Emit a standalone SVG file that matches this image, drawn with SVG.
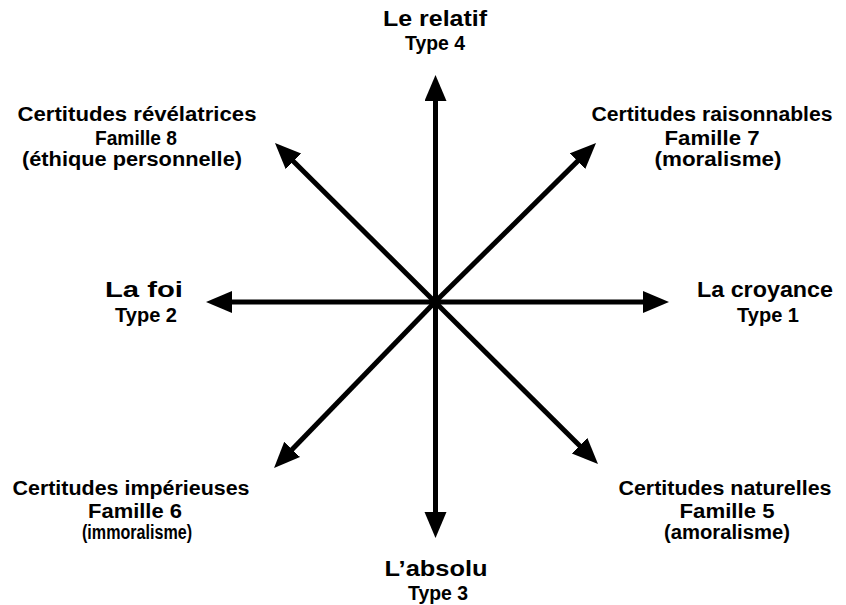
<svg xmlns="http://www.w3.org/2000/svg" width="846" height="605" viewBox="0 0 846 605">
<style>
text{font-family:"Liberation Sans",Arial,sans-serif;font-weight:bold;fill:#000;text-anchor:middle}
.m{font-size:22px}
.s{font-size:20px}
.ax{stroke:#000;stroke-width:5;fill:none;marker-end:url(#ah)}
</style>
<defs>
<marker id="ah" markerUnits="userSpaceOnUse" markerWidth="27" markerHeight="24" refX="14" refY="11" orient="auto">
<path d="M0,0 L26,11 L0,22 Z" fill="#000"/>
</marker>
</defs>
<rect width="846" height="605" fill="#fff"/>
<g id="connectors">
<line class="ax" x1="435.5" y1="302" x2="435.5" y2="87"/>
<line class="ax" x1="435.5" y1="302" x2="435.5" y2="526"/>
<line class="ax" x1="435" y1="302" x2="218" y2="302"/>
<line class="ax" x1="435" y1="302" x2="657" y2="302"/>
<line class="ax" x1="435" y1="302" x2="283.5" y2="151.5"/>
<line class="ax" x1="435" y1="302" x2="587.5" y2="151.4"/>
<line class="ax" x1="435" y1="302" x2="282.4" y2="459.4"/>
<line class="ax" x1="435" y1="302" x2="589.5" y2="455.5"/>
<circle cx="435" cy="302" r="6" fill="#000"/>
</g>
<g id="type4">
<text class="m" x="435" y="26" textLength="104" lengthAdjust="spacingAndGlyphs">Le relatif</text>
<text class="s" x="435" y="50" textLength="60" lengthAdjust="spacingAndGlyphs">Type 4</text>
</g>
<g id="type3">
<text class="m" x="436" y="576" textLength="103" lengthAdjust="spacingAndGlyphs">L’absolu</text>
<text class="s" x="438" y="600" textLength="60" lengthAdjust="spacingAndGlyphs">Type 3</text>
</g>
<g id="type2">
<text class="m" x="144" y="297" textLength="78" lengthAdjust="spacingAndGlyphs">La foi</text>
<text class="s" x="146" y="322" textLength="62" lengthAdjust="spacingAndGlyphs">Type 2</text>
</g>
<g id="type1">
<text class="m" x="765" y="297" textLength="136" lengthAdjust="spacingAndGlyphs">La croyance</text>
<text class="s" x="768" y="322" textLength="62" lengthAdjust="spacingAndGlyphs">Type 1</text>
</g>
<g id="famille8">
<text class="s" x="137" y="121" textLength="239" lengthAdjust="spacingAndGlyphs">Certitudes révélatrices</text>
<text class="s" x="136" y="145" textLength="82" lengthAdjust="spacingAndGlyphs">Famille 8</text>
<text class="s" x="132" y="166" textLength="220" lengthAdjust="spacingAndGlyphs">(éthique personnelle)</text>
</g>
<g id="famille7">
<text class="s" x="712" y="121" textLength="241" lengthAdjust="spacingAndGlyphs">Certitudes raisonnables</text>
<text class="s" x="712" y="145" textLength="95" lengthAdjust="spacingAndGlyphs">Famille 7</text>
<text class="s" x="718" y="166" textLength="127" lengthAdjust="spacingAndGlyphs">(moralisme)</text>
</g>
<g id="famille6">
<text class="s" x="131" y="495" textLength="237" lengthAdjust="spacingAndGlyphs">Certitudes impérieuses</text>
<text class="s" x="135" y="518" textLength="94" lengthAdjust="spacingAndGlyphs">Famille 6</text>
<text class="s" x="137" y="539" textLength="110" lengthAdjust="spacingAndGlyphs">(immoralisme)</text>
</g>
<g id="famille5">
<text class="s" x="725" y="495" textLength="213" lengthAdjust="spacingAndGlyphs">Certitudes naturelles</text>
<text class="s" x="727" y="518" textLength="95" lengthAdjust="spacingAndGlyphs">Famille 5</text>
<text class="s" x="727" y="539" textLength="126" lengthAdjust="spacingAndGlyphs">(amoralisme)</text>
</g>
</svg>
